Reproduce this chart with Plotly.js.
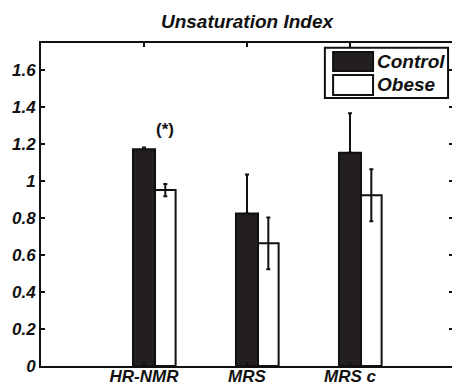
<!DOCTYPE html>
<html>
<head>
<meta charset="utf-8">
<script src="https://cdn.plot.ly/plotly-3.0.1.min.js"></script>
<style>
html, body { margin: 0; padding: 0; overflow: hidden; background: #fff; }
#chart { width: 455px; height: 387px; }
</style>
</head>
<body>
<div id="chart"></div>
<script>
const categories = ['HR-NMR', 'MRS', 'MRS c'];
const controlValues = [1.171, 0.825, 1.153];
const controlErrors = [0.01, 0.21, 0.213];
const controlErrorsBelow = [0, 0, 0];
const obeseValues = [0.951, 0.663, 0.923];
const obeseErrors = [0.033, 0.14, 0.14];
const yTickValues = [0, 0.2, 0.4, 0.6, 0.8, 1, 1.2, 1.4, 1.6];
const seriesNames = ['Control', 'Obese'];

const FONT = 'Liberation Sans, Arial, sans-serif';
const darkFill = '#231f20';
const tf = (size, italic) => ({ family: FONT, size: size, weight: 'bold', style: italic ? 'italic' : 'normal', color: '#111' });

const traces = [
  {
    type: 'bar', name: seriesNames[0], x: categories, y: controlValues,
    offset: -0.107, width: 0.214,
    marker: { color: darkFill, line: { color: '#111', width: 2 } },
    error_y: { type: 'data', symmetric: false, array: controlErrors, arrayminus: controlErrorsBelow,
               visible: true, color: '#111', thickness: 2, width: 2 },
    showlegend: false, hoverinfo: 'skip'
  },
  {
    type: 'bar', name: seriesNames[1], x: categories, y: obeseValues,
    offset: 0.107, width: 0.2,
    marker: { color: '#ffffff', line: { color: '#111', width: 2 } },
    error_y: { type: 'data', array: obeseErrors, visible: true, color: '#111', thickness: 2, width: 2 },
    showlegend: false, hoverinfo: 'skip'
  }
];

const layout = {
  width: 455, height: 387,
  margin: { l: 41, r: 2, t: 43, b: 21, pad: 0 },
  paper_bgcolor: '#fff', plot_bgcolor: '#fff',
  barmode: 'overlay',
  font: { family: FONT, color: '#111' },
  title: {
    text: 'Unsaturation Index',
    font: tf(19, true),
    x: 0.5, xref: 'paper', xanchor: 'center',
    y: 0.946, yref: 'container', yanchor: 'middle'
  },
  xaxis: {
    type: 'category', range: [-1, 3],
    showline: true, linecolor: '#111', linewidth: 2, mirror: 'ticks',
    ticks: 'inside', ticklen: 4, tickwidth: 2, tickcolor: '#111',
    showgrid: false, zeroline: false,
    ticklabelstandoff: -6,
    tickfont: tf(17, true)
  },
  yaxis: {
    range: [0, 1.746],
    tickvals: yTickValues,
    showline: true, linecolor: '#111', linewidth: 2, mirror: 'ticks',
    ticks: 'inside', ticklen: 4, tickwidth: 2, tickcolor: '#111',
    showgrid: false, zeroline: false,
    tickfont: tf(17, true)
  },
  shapes: [
    { type: 'rect', xref: 'paper', yref: 'paper', x0: 0.689, x1: 0.988, y0: 0.830, y1: 0.985,
      line: { color: '#111', width: 2 }, fillcolor: '#fff' },
    { type: 'rect', xref: 'paper', yref: 'paper', x0: 0.709, x1: 0.806, y0: 0.913, y1: 0.972,
      line: { color: '#111', width: 2 }, fillcolor: darkFill },
    { type: 'rect', xref: 'paper', yref: 'paper', x0: 0.709, x1: 0.806, y0: 0.839, y1: 0.901,
      line: { color: '#111', width: 2 }, fillcolor: '#fff' }
  ],
  annotations: [
    { xref: 'paper', yref: 'paper', x: 0.811, y: 0.944, xanchor: 'left', yanchor: 'middle',
      text: seriesNames[0], showarrow: false, font: tf(19, true) },
    { xref: 'paper', yref: 'paper', x: 0.811, y: 0.870, xanchor: 'left', yanchor: 'middle',
      text: seriesNames[1], showarrow: false, font: tf(19, true) },
    { xref: 'x', yref: 'y', x: 0.2, y: 1.276, xanchor: 'center', yanchor: 'middle',
      text: '(*)', showarrow: false, font: tf(17, false) }
  ]
};

Plotly.newPlot('chart', traces, layout, { staticPlot: true, displayModeBar: false });
</script>
</body>
</html>
